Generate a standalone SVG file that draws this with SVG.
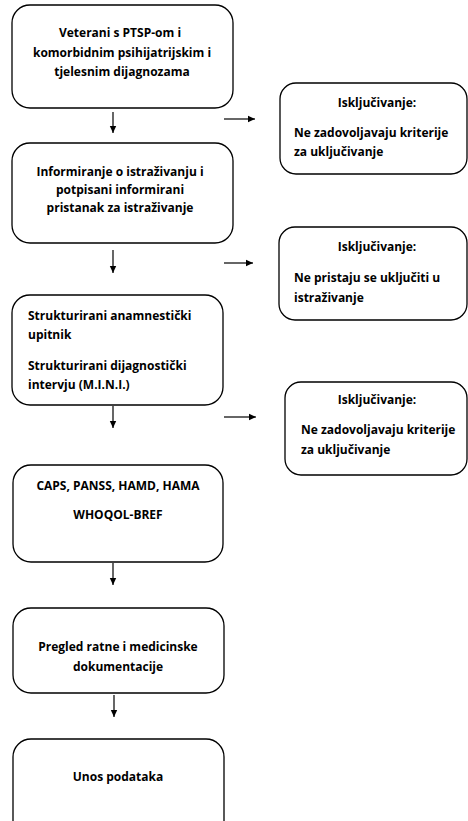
<svg xmlns="http://www.w3.org/2000/svg" width="468" height="821" viewBox="0 0 468 821">
<defs>
<marker id="ah" markerWidth="8" markerHeight="8" refX="7" refY="4" orient="auto" markerUnits="userSpaceOnUse">
<path d="M0,0.8 L7,4 L0,7.2 Z" fill="#000"/>
</marker>
<style>
.box{fill:#fff;stroke:#000;stroke-width:1.3}
.t{font-family:"Open Sans",Lato,"Liberation Sans",sans-serif;font-weight:bold;font-size:12px;fill:#000}
.c{text-anchor:middle}
.ln{stroke:#000;stroke-width:1.2;fill:none}
</style>
</defs>
<rect width="468" height="821" fill="#fff"/>
<g id="n1">
<rect class="box" x="12" y="5" width="221" height="103" rx="18"/>
<text class="t c" x="120" y="37">Veterani s PTSP-om i</text>
<text class="t c" x="122" y="57">komorbidnim psihijatrijskim  i</text>
<text class="t c" x="122" y="76">tjelesnim dijagnozama</text>
</g>
<g id="n2">
<rect class="box" x="12" y="143" width="221" height="100" rx="18"/>
<text class="t c" x="120" y="176">Informiranje o istraživanju i</text>
<text class="t c" x="120" y="194">potpisani informirani</text>
<text class="t c" x="120" y="212">pristanak za istraživanje</text>
</g>
<g id="n3">
<rect class="box" x="12" y="295" width="211" height="110" rx="18"/>
<text class="t" x="28" y="320">Strukturirani anamnestički</text>
<text class="t" x="28" y="339">upitnik</text>
<text class="t" x="28" y="370">Strukturirani dijagnostički</text>
<text class="t" x="28" y="389">intervju (M.I.N.I.)</text>
</g>
<g id="n4">
<rect class="box" x="13" y="465" width="210" height="97" rx="18"/>
<text class="t c" x="118" y="490">CAPS, PANSS, HAMD, HAMA</text>
<text class="t c" x="118" y="519">WHOQOL-BREF</text>
</g>
<g id="n5">
<rect class="box" x="13" y="608" width="211" height="85" rx="18"/>
<text class="t c" x="118" y="651">Pregled ratne i medicinske</text>
<text class="t c" x="118" y="671">dokumentacije</text>
</g>
<g id="n6">
<rect class="box" x="13" y="739" width="211" height="100" rx="18"/>
<text class="t c" x="118" y="781">Unos podataka</text>
</g>
<g id="x1">
<rect class="box" x="280" y="83" width="187" height="91" rx="16"/>
<text class="t c" x="377" y="107">Isključivanje:</text>
<text class="t" x="294" y="137">Ne zadovoljavaju kriterije</text>
<text class="t" x="294" y="156">za uključivanje</text>
</g>
<g id="x2">
<rect class="box" x="279" y="227" width="188" height="93" rx="16"/>
<text class="t c" x="377" y="251">Isključivanje:</text>
<text class="t" x="294" y="282">Ne pristaju se uključiti u</text>
<text class="t" x="294" y="302">istraživanje</text>
</g>
<g id="x3">
<rect class="box" x="285" y="382" width="182" height="93" rx="16"/>
<text class="t c" x="377" y="404">Isključivanje:</text>
<text class="t" x="301" y="434">Ne zadovoljavaju kriterije</text>
<text class="t" x="301" y="454">za uključivanje</text>
</g>
<g id="connectors">
<line class="ln" x1="113" y1="112" x2="113" y2="133" marker-end="url(#ah)"/>
<line class="ln" x1="113" y1="250" x2="113" y2="273" marker-end="url(#ah)"/>
<line class="ln" x1="113" y1="406" x2="113" y2="428" marker-end="url(#ah)"/>
<line class="ln" x1="113" y1="563" x2="113" y2="585" marker-end="url(#ah)"/>
<line class="ln" x1="114" y1="695" x2="114" y2="717" marker-end="url(#ah)"/>
<line class="ln" x1="224" y1="119" x2="255" y2="119" marker-end="url(#ah)"/>
<line class="ln" x1="224" y1="263" x2="253" y2="263" marker-end="url(#ah)"/>
<line class="ln" x1="224" y1="417" x2="256" y2="417" marker-end="url(#ah)"/>
</g>
</svg>
